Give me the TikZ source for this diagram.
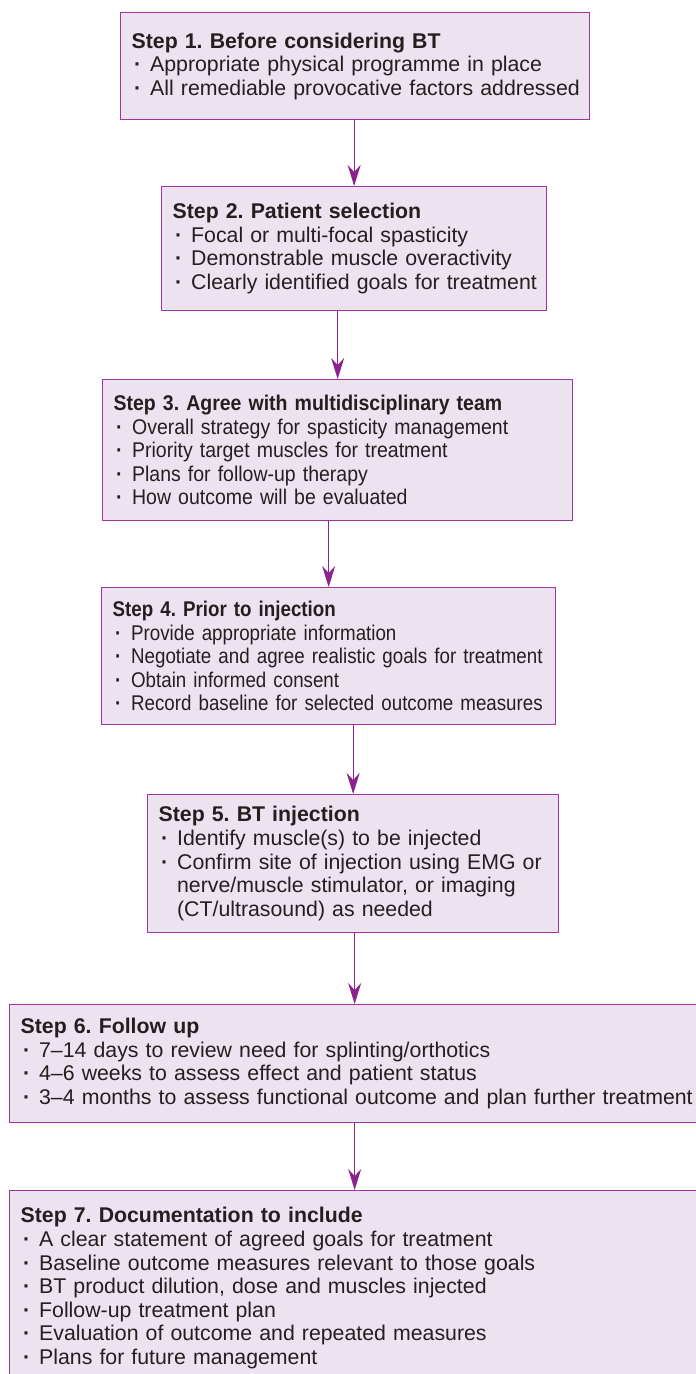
\documentclass[tikz,border=0pt]{standalone}
\usepackage{fontspec}
\setmainfont{Liberation Sans}
\newfontfamily\narrowA{Liberation Sans}[FakeStretch=0.915]
\newfontfamily\narrowB{Liberation Sans}[FakeStretch=0.88]
\usetikzlibrary{arrows.meta}
\definecolor{boxfill}{RGB}{237,226,239}
\definecolor{boxline}{RGB}{160,52,162}
\definecolor{arrowc}{RGB}{140,34,142}
\definecolor{txt}{RGB}{35,31,32}
\newcommand{\bitem}[1]{\par\hangindent=18.5pt\hangafter=1\noindent\makebox[18.5pt][l]{\hspace{2.5pt}\textbf{·}}#1\par}
\newcommand{\steptitle}[1]{\noindent\mbox{\textbf{#1}}}
\hfuzz=100pt
\frenchspacing
\tikzset{
  stepbox/.style={draw=boxline, fill=boxfill, line width=1.3pt, inner xsep=11pt, inner ysep=0pt,
    anchor=north west, align=left, text=txt, font=\fontsize{21.3}{23.6}\selectfont\frenchspacing},
  arr/.style={draw=arrowc, line width=1.3pt, -{Stealth[length=21pt,width=13pt,inset=7pt]}}
}
\begin{document}
\begin{tikzpicture}[x=1pt,y=1pt]
\useasboundingbox (0,0) rectangle (696,-1374);
\fill[white] (0,0) rectangle (696,-1374);
\clip (0,0) rectangle (696,-1374);

\node[stepbox, text width=447pt, minimum height=107pt] (b1) at (120,-12) {%
\steptitle{Step 1. Before considering BT}
\bitem{\mbox{Appropriate physical programme in place}}
\bitem{\mbox{All remediable provocative factors addressed}}};

\node[stepbox, text width=363pt, minimum height=124pt] (b2) at (161,-186) {%
\steptitle{Step 2. Patient selection}
\bitem{\mbox{Focal or multi-focal spasticity}}
\bitem{\mbox{Demonstrable muscle overactivity}}
\bitem{\mbox{Clearly identified goals for treatment}}};

\node[stepbox, text width=448pt, minimum height=141pt,
      font=\fontsize{21.3}{23.6}\narrowA\selectfont\frenchspacing] (b3) at (102,-379) {%
\steptitle{Step 3. Agree with multidisciplinary team}
\bitem{\mbox{Overall strategy for spasticity management}}
\bitem{\mbox{Priority target muscles for treatment}}
\bitem{\mbox{Plans for follow-up therapy}}
\bitem{\mbox{How outcome will be evaluated}}};

\node[stepbox, text width=432pt, minimum height=137pt,
      font=\fontsize{21.3}{23.6}\narrowB\selectfont\frenchspacing] (b4) at (101,-587) {%
\steptitle{Step 4. Prior to injection}
\bitem{\mbox{Provide appropriate information}}
\bitem{\mbox{Negotiate and agree realistic goals for treatment}}
\bitem{\mbox{Obtain informed consent}}
\bitem{\mbox{Record baseline for selected outcome measures}}};

\node[stepbox, text width=389pt, minimum height=138pt] (b5) at (147,-794) {%
\steptitle{Step 5. BT injection}
\bitem{\mbox{Identify muscle(s) to be injected}}
\bitem{\mbox{Confirm site of injection using EMG or}\newline
\mbox{nerve/muscle stimulator, or imaging}\newline
\mbox{(CT/ultrasound) as needed}}};

\node[stepbox, text width=668pt, minimum height=118pt] (b6) at (9,-1004) {%
\steptitle{Step 6. Follow up}
\bitem{\mbox{7–14 days to review need for splinting/orthotics}}
\bitem{\mbox{4–6 weeks to assess effect and patient status}}
\bitem{\mbox{3–4 months to assess functional outcome and plan further treatment}}};

\node[stepbox, text width=668pt, minimum height=195pt] (b7) at (9,-1190) {%
\steptitle{Step 7. Documentation to include}
\bitem{\mbox{A clear statement of agreed goals for treatment}}
\bitem{\mbox{Baseline outcome measures relevant to those goals}}
\bitem{\mbox{BT product dilution, dose and muscles injected}}
\bitem{\mbox{Follow-up treatment plan}}
\bitem{\mbox{Evaluation of outcome and repeated measures}}
\bitem{\mbox{Plans for future management}}};

\draw[arr] (b1.south -| b2.north) -- (b2.north);
\draw[arr] (b2.south -| b3.north) -- (b3.north);
\draw[arr] (b3.south -| b4.north) -- (b4.north);
\draw[arr] (b4.south -| b5.north) -- (b5.north);
\draw[arr] (b5.south -| b6.north) -- (b6.north);
\draw[arr] (b6.south) -- (b7.north);
\end{tikzpicture}
\end{document}
